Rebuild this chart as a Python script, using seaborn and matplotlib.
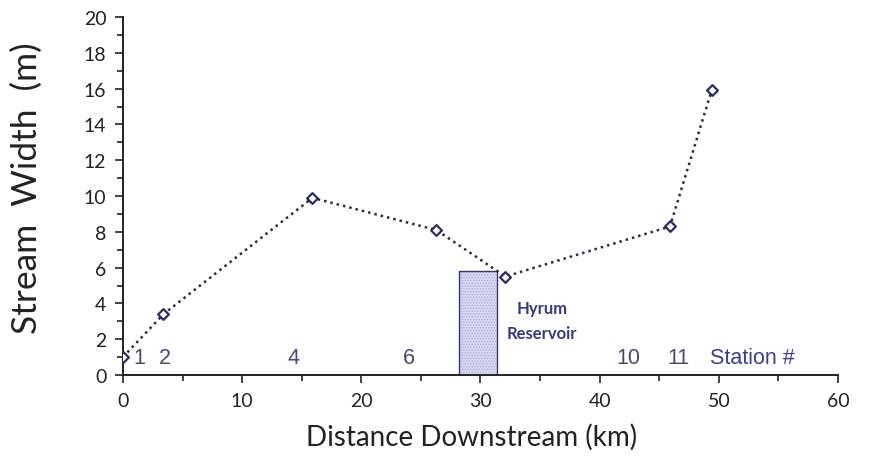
import matplotlib
matplotlib.use("Agg")
import matplotlib.pyplot as plt
import seaborn as sns
import pandas as pd
from matplotlib.patches import Rectangle
from matplotlib.ticker import MultipleLocator

# Stream width measured at each station along the river
distance_km = [0.0, 3.4, 15.9, 26.3, 32.1, 45.9, 49.4]
width_m = [1.0, 3.4, 9.9, 8.1, 5.5, 8.3, 15.9]

# Station numbers written along the bottom of the plot
station_labels = ["1", "2", "4", "6", "10", "11", "Station #"]
station_label_x = [1.4, 3.5, 14.3, 24.0, 42.4, 46.6, 52.8]

# Hyrum Reservoir extent (km) and drawn height (m)
reservoir_start = 28.2
reservoir_end = 31.4
reservoir_height = 5.8

sns.set_theme(style="ticks")
plt.rcParams["font.family"] = ["Lato", "DejaVu Sans"]
plt.rcParams["hatch.linewidth"] = 0.6

df = pd.DataFrame({"distance": distance_km, "width": width_m})

fig = plt.figure(figsize=(8.69, 4.64), dpi=100)
ax = fig.add_axes([0.1415, 0.1897, 0.8228, 0.7713])

# reservoir: pale fill with a fine dot hatch, then a dark outline on top
ax.add_patch(Rectangle((reservoir_start, 0), reservoir_end - reservoir_start,
                       reservoir_height, facecolor="#d9d8f2", edgecolor="#a9a9d8",
                       linewidth=0, hatch="......", zorder=1))
ax.add_patch(Rectangle((reservoir_start, 0), reservoir_end - reservoir_start,
                       reservoir_height, facecolor="none", edgecolor="#3a3a6a",
                       linewidth=1.0, zorder=2))

sns.lineplot(data=df, x="distance", y="width", ax=ax, color="#2b2b3c",
             linestyle=(0, (1, 1.6)), linewidth=1.8, zorder=3)
sns.scatterplot(data=df, x="distance", y="width", ax=ax, marker="D", s=30,
                facecolor="white", edgecolor="#2c2c5c", linewidth=1.6, zorder=4)

for lab, xv in zip(station_labels, station_label_x):
    col = "#3f3f80" if lab == "Station #" else "#4a4a68"
    ax.text(xv, 0.95, lab, ha="center", va="center", fontsize=15.5, color=col,
            family=["Liberation Sans", "DejaVu Sans"], zorder=5)

ax.text(33.0, 3.75, "Hyrum", ha="left", va="center", fontsize=12,
        fontweight="bold", color="#3a3a78")
ax.text(32.2, 2.35, "Reservoir", ha="left", va="center", fontsize=12,
        fontweight="bold", color="#3a3a78")

ax.set_xlim(0, 60)
ax.set_ylim(0, 20)
ax.xaxis.set_major_locator(MultipleLocator(10))
ax.xaxis.set_minor_locator(MultipleLocator(5))
ax.yaxis.set_major_locator(MultipleLocator(2))
ax.yaxis.set_minor_locator(MultipleLocator(1))
ax.tick_params(axis="both", which="major", length=6, width=1.2, color="#222222",
               labelsize=14, labelcolor="#222222", pad=6)
ax.tick_params(axis="both", which="minor", length=4, width=1.2, color="#222222")

for side in ["top", "right"]:
    ax.spines[side].set_visible(False)
for side in ["left", "bottom"]:
    ax.spines[side].set_linewidth(1.4)
    ax.spines[side].set_color("#222222")

ax.set_xlabel("Distance Downstream (km)", fontsize=20, color="#222222", labelpad=6)
ax.set_ylabel("Stream  Width  (m)", fontsize=25.5, color="#222222")
ax.yaxis.set_label_coords(-0.112, 0.525)
ax.xaxis.set_label_coords(0.488, -0.135)

fig.savefig("out.png", dpi=100)
